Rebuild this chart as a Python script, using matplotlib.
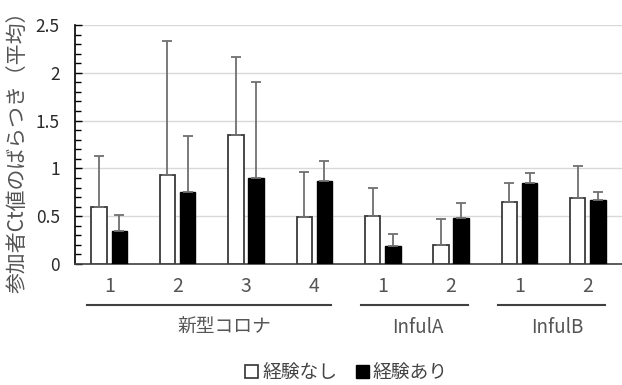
import numpy as np
import matplotlib.pyplot as plt
from matplotlib.patches import Patch
from matplotlib.ticker import MultipleLocator

plt.rcParams['font.family'] = ['Noto Sans CJK JP', 'DejaVu Sans']

# データ
cats = ['1', '2', '3', '4', '1', '2', '1', '2']
groups = ['新型コロナ', 'InfulA', 'InfulB']
group_span = [(0, 3), (4, 5), (6, 7)]
group_label_x = [1.68, 4.52, 6.56]

nashi = [0.60, 0.93, 1.35, 0.49, 0.50, 0.20, 0.65, 0.69]
nashi_err = [0.53, 1.40, 0.82, 0.47, 0.30, 0.27, 0.20, 0.34]
ari = [0.34, 0.75, 0.90, 0.87, 0.19, 0.48, 0.85, 0.67]
ari_err = [0.17, 0.59, 1.00, 0.21, 0.12, 0.16, 0.10, 0.08]

yticks = [0, 0.5, 1, 1.5, 2, 2.5]
ytick_labels = ['0', '0.5', '1', '1.5', '2', '2.5']

fig = plt.figure(figsize=(6.22, 3.85), dpi=100)
ax = fig.add_axes([0.1206, 0.3143, 0.8794, 0.6208])

x = np.arange(len(cats))
w = 0.225
off = 0.148

ax.bar(x - off, nashi, w, color='white', edgecolor='#3a3a3a', linewidth=1.3,
       yerr=[np.zeros(len(x)), nashi_err],
       error_kw=dict(ecolor='#707070', elinewidth=1.3, capsize=3.5, capthick=1.3), zorder=3)
ax.bar(x + off, ari, w, color='black', edgecolor='black', linewidth=1.0,
       yerr=[np.zeros(len(x)), ari_err],
       error_kw=dict(ecolor='#707070', elinewidth=1.3, capsize=3.5, capthick=1.3), zorder=3)

ax.set_xlim(-0.5, 7.5)
ax.set_ylim(0, 2.5)
ax.set_yticks(yticks, ytick_labels)
ax.yaxis.set_minor_locator(MultipleLocator(0.1))
ax.yaxis.grid(True, color='#d9d9d9', linewidth=1.0, zorder=0)
ax.set_axisbelow(True)

for s in ['top', 'right']:
    ax.spines[s].set_visible(False)
ax.spines['left'].set_linewidth(1.2)
ax.spines['bottom'].set_linewidth(1.2)
ax.spines['bottom'].set_color('#404040')

ax.tick_params(axis='y', which='major', direction='in', length=5, width=1,
               labelsize=12.5, labelcolor='#2a2a2a', pad=11)
ax.tick_params(axis='y', which='minor', direction='in', length=4, width=1)
ax.set_xticks(x)
ax.set_xticklabels(cats)
ax.tick_params(axis='x', length=0, labelsize=14, labelcolor='#555555', pad=9)

ax.set_ylabel('参加者Ct値のばらつき（平均）', fontsize=15, color='#555555')
ax.yaxis.set_label_coords(-0.085, 0.49)

# グループ線とラベル
trans = ax.get_xaxis_transform()
for (a, b), name, lx in zip(group_span, groups, group_label_x):
    ax.plot([a - 0.32, b + 0.25], [-0.172, -0.172], color='#404040', linewidth=1.5,
            transform=trans, clip_on=False)
    ax.text(lx, -0.265, name, transform=trans, ha='center', va='center',
            fontsize=13.5, color='#555555')

handles = [Patch(facecolor='white', edgecolor='#333333', linewidth=1.2),
           Patch(facecolor='black', edgecolor='black')]
fig.legend(handles, ['経験なし', '経験あり'], loc='center', bbox_to_anchor=(0.557, 0.032),
           ncol=2, frameon=False, fontsize=13.5, handlelength=0.7, handleheight=0.7,
           handletextpad=0.2, columnspacing=1.0, labelcolor='#444444')

fig.savefig('out.png', dpi=100)
